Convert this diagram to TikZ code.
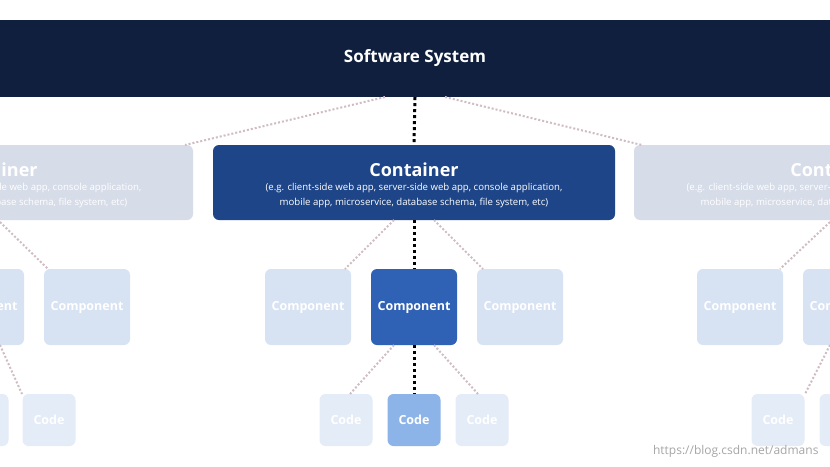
\documentclass[tikz,border=0pt]{standalone}
\usepackage{fontspec}
\setmainfont{Open Sans}
\definecolor{navy}{HTML}{0F1F3D}
\definecolor{contc}{HTML}{1E4587}
\definecolor{compc}{HTML}{2F62B5}
\definecolor{codec}{HTML}{8DB4E8}
\definecolor{fcont}{HTML}{D6DCE8}
\definecolor{fcomp}{HTML}{D7E2F3}
\definecolor{fcode}{HTML}{E4ECF8}
\definecolor{flinec}{HTML}{D0BCC2}
\begin{document}
\begin{tikzpicture}[x=1pt,y=-1pt,
  box/.style={rectangle,rounded corners=6pt,inner sep=0pt,align=center,text=white,font=\bfseries},
  cont/.style={box,minimum width=402pt,minimum height=75pt},
  comp/.style={box,minimum width=86pt,minimum height=76pt,font=\bfseries\fontsize{12.5}{15}\selectfont},
  code/.style={box,minimum width=53pt,minimum height=52pt,font=\bfseries\fontsize{12.5}{15}\selectfont},
  title/.style={font=\bfseries\fontsize{18}{21}\selectfont,text=white},
  desc/.style={font=\fontsize{9.6}{15}\selectfont,text=white,align=center},
  faint/.style={draw=flinec,line width=2pt,dash pattern=on 2pt off 2pt},
  bline/.style={draw=black,line width=3pt,dash pattern=on 3pt off 3pt}]
\useasboundingbox (0,0) rectangle (830,466);
\clip (0,0) rectangle (830,466);
\fill[white] (0,0) rectangle (830,466);
\node[rectangle,fill=navy,minimum width=840pt,minimum height=77pt,inner sep=0pt,text=white,font=\bfseries\fontsize{17}{20}\selectfont] (sys) at (415,58.5) {Software System};
% containers
\node[cont,fill=fcont] (cl) at (-8,182.5) {};
\node[title] (clt) at (-7,170) {Container};
\node[desc] (cld) at (-7,196) {(e.g. client-side web app, server-side web app, console application,\\mobile app, microservice, database schema, file system, etc)};
\node[cont,fill=contc] (cc) at (414,182.5) {};
\node[title] (cct) at (414,170) {Container};
\node[desc] (ccd) at (414,196) {(e.g. client-side web app, server-side web app, console application,\\mobile app, microservice, database schema, file system, etc)};
\node[cont,fill=fcont] (cr) at (835,182.5) {};
\node[title] (crt) at (835,170) {Container};
\node[desc] (crd) at (835,196) {(e.g. client-side web app, server-side web app, console application,\\mobile app, microservice, database schema, file system, etc)};
% components
\node[comp,fill=fcomp] (k1) at (-19,307) {Component};
\node[comp,fill=fcomp] (k2) at (87,307) {Component};
\node[comp,fill=fcomp] (k3) at (308,307) {Component};
\node[comp,fill=compc] (k4) at (414,307) {Component};
\node[comp,fill=fcomp] (k5) at (520,307) {Component};
\node[comp,fill=fcomp] (k6) at (740,307) {Component};
\node[comp,fill=fcomp] (k7) at (846,307) {Component};
% code
\node[code,fill=fcode] (d1) at (-18,420) {Code};
\node[code,fill=fcode] (d2) at (49,420) {Code};
\node[code,fill=fcode] (d3) at (346,420) {Code};
\node[code,fill=codec] (d4) at (414,420) {Code};
\node[code,fill=fcode] (d5) at (482,420) {Code};
\node[code,fill=fcode] (d6) at (778,420) {Code};
\node[code,fill=fcode] (d7) at (846,420) {Code};
% coordinates
\coordinate (s1) at (385,97); \coordinate (s2) at (445,97);
\coordinate (c1) at (185,145); \coordinate (c2) at (642,145);
\coordinate (cb1) at (394,220); \coordinate (cb2) at (434,220);
\coordinate (kt1) at (345,269); \coordinate (kt2) at (483,269);
\coordinate (kb1) at (394,345); \coordinate (kb2) at (434,345);
\coordinate (dt1) at (350,394); \coordinate (dt2) at (478,394);
\coordinate (lb) at (0,222); \coordinate (lk) at (48,269);
\coordinate (rb) at (830,222); \coordinate (rk) at (780,269);
\coordinate (lkb) at (0,345); \coordinate (lkd) at (22,394);
\coordinate (rkb) at (830,345); \coordinate (rkd) at (805,394);
\draw[faint] (s1) -- (c1); \draw[faint] (s2) -- (c2);
\draw[faint] (cb1) -- (kt1); \draw[faint] (cb2) -- (kt2);
\draw[faint] (kb1) -- (dt1); \draw[faint] (kb2) -- (dt2);
\draw[faint] (lb) -- (lk); \draw[faint] (rb) -- (rk);
\draw[faint] (lkb) -- (lkd); \draw[faint] (rkb) -- (rkd);
\draw[bline] (sys.south) -- (cc.north);
\draw[bline] (cc.south) -- (k4.north);
\draw[bline] (k4.south) -- (d4.north);
\node[text=gray!70,font=\fontsize{12}{14}\selectfont,anchor=east] (wm) at (822,451) {https://blog.csdn.net/admans};
\end{tikzpicture}
\end{document}
